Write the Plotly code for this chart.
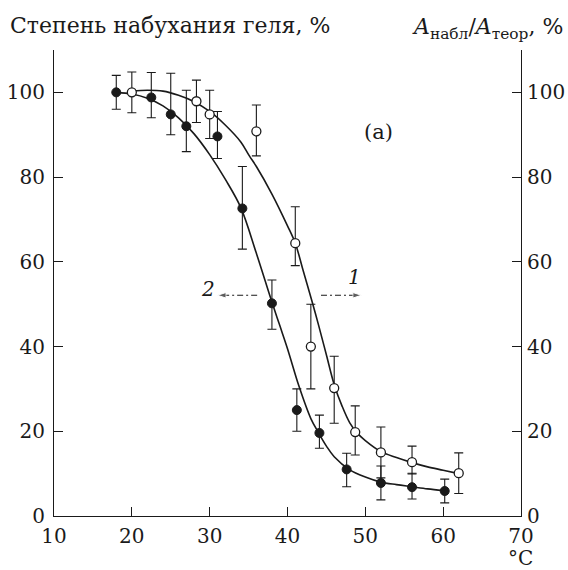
import plotly.graph_objects as go

# ---- data ----
# curve 1 (open circles, right axis quantity)
t1 = [20, 28.3, 30, 36, 41, 43, 46, 48.7, 52, 56, 62]
v1 = [100, 97.9, 94.8, 90.8, 64.4, 40, 30.2, 19.8, 15, 12.7, 10.1]
e1_plus = [4.8, 5, 5.7, 6.2, 8.6, 10, 7.5, 6.2, 6, 3.8, 4.8]
e1_minus = [4.8, 5, 5.7, 5.8, 5.3, 10, 8.3, 5.4, 6, 2.8, 4.8]

# curve 2 (filled circles, left axis quantity)
t2 = [18, 22.5, 25, 27, 31, 34.2, 38, 41.2, 44.1, 47.6, 52, 56, 60.2]
v2 = [100, 98.8, 94.8, 92, 89.6, 72.6, 50.2, 25, 19.6, 11, 7.8, 6.8, 5.9]
e2_plus = [4, 5.9, 9.7, 8.5, 5.9, 9.9, 5.5, 5, 4.2, 3.8, 4, 3.3, 2.8]
e2_minus = [4, 4.8, 4.8, 6, 5.2, 9.6, 6.1, 5, 3.6, 4.1, 4, 2.8, 2.8]

# fitted smooth curves
c1_t = [20, 22, 24, 26, 28, 30, 32, 34, 35.1, 36, 38, 40, 41, 42, 43.1, 44, 45, 46,
        47, 48, 49, 50, 52, 54, 56, 58, 60, 62]
c1_v = [100.3, 100.5, 100.3, 99.3, 97.8, 95.5, 92.3, 88.3, 85, 82.5, 76, 68.5, 64.4,
        58, 51, 45, 38, 31, 26, 22, 19.5, 17.8, 15.2, 13.8, 12.6, 11.6, 10.8, 10]
c2_t = [18, 20, 22, 24, 26, 28, 30, 32, 34, 36, 38, 39, 40, 41.5, 43, 44, 45, 46,
        48, 50, 52, 54, 56, 58, 60]
c2_v = [100, 99.6, 98.6, 96.8, 94, 90.2, 85.3, 79.5, 72.8, 62, 50.5, 45, 39.5, 30.5,
        23, 19.6, 16.5, 14, 10.9, 9.2, 8, 7.4, 6.9, 6.4, 6]

x_ticks = [10, 20, 30, 40, 50, 60, 70]
y_ticks = [0, 20, 40, 60, 80, 100]

left_title = "Степень набухания геля, %"
right_title = "<i>A</i><sub>набл</sub>/<i>A</i><sub>теор</sub>, %"
x_unit = "°C"
panel_label = "(a)"

# curve labels with direction arrows: (label, label_x, label_y, arrow_from_x, arrow_to_x, arrow_y)
arrow2 = ("<i>2</i>", 29.8, 53.5, 36.1, 31.0, 52.1)
arrow1 = ("<i>1</i>", 48.6, 56.5, 44.3, 49.5, 52.1)

FONT = "DejaVu Serif"
FS_TICK = 20
FS_TITLE = 22
INK = "#1a1a1a"

fig = go.Figure()

fig.add_trace(go.Scatter(x=c1_t, y=c1_v, mode="lines", line=dict(color=INK, width=1.6, shape="spline"),
                         hoverinfo="skip"))
fig.add_trace(go.Scatter(x=c2_t, y=c2_v, mode="lines", line=dict(color=INK, width=1.6, shape="spline"),
                         hoverinfo="skip"))

fig.add_trace(go.Scatter(
    x=t1, y=v1, mode="markers",
    marker=dict(symbol="circle", size=9, color="white", line=dict(color=INK, width=1.3)),
    error_y=dict(type="data", symmetric=False, array=e1_plus, arrayminus=e1_minus,
                 color=INK, thickness=1.1, width=4.5)))
fig.add_trace(go.Scatter(
    x=t2, y=v2, mode="markers",
    marker=dict(symbol="circle", size=9, color=INK, line=dict(color=INK, width=1)),
    error_y=dict(type="data", symmetric=False, array=e2_plus, arrayminus=e2_minus,
                 color=INK, thickness=1.1, width=4.5)))

# arrows (dashed with arrowhead)
for lab, lx, ly, ax0, ax1, ay in (arrow2, arrow1):
    fig.add_trace(go.Scatter(
        x=[ax0, ax1], y=[ay, ay], mode="lines+markers",
        line=dict(color=INK, width=1.1, dash="6px,3px,2px,3px"),
        marker=dict(symbol=["circle", "arrow"], size=[0, 9], angleref="previous", color=INK),
        hoverinfo="skip"))
    fig.add_annotation(x=lx, y=ly, text=lab, showarrow=False, xanchor="center", yanchor="middle",
                       font=dict(family=FONT, size=20, color=INK))

# invisible trace to anchor the right axis
fig.add_trace(go.Scatter(x=[10], y=[0], yaxis="y2", mode="markers", marker=dict(opacity=0),
                         hoverinfo="skip"))

fig.add_annotation(x=51.7, y=90.6, text=panel_label, showarrow=False,
                   font=dict(family=FONT, size=21, color=INK))

fig.add_annotation(xref="paper", yref="paper", x=-0.098, y=1.053, text=left_title, showarrow=False,
                   xanchor="left", yanchor="middle", font=dict(family=FONT, size=FS_TITLE, color=INK))
fig.add_annotation(xref="paper", yref="paper", x=1.095, y=1.046, text=right_title, showarrow=False,
                   xanchor="right", yanchor="middle", font=dict(family=FONT, size=FS_TITLE, color=INK))
fig.add_annotation(xref="paper", yref="paper", x=0.998, y=-0.09, text=x_unit, showarrow=False,
                   xanchor="center", yanchor="middle", font=dict(family=FONT, size=20, color=INK))

axis_common = dict(showgrid=False, zeroline=False, showline=True, linecolor=INK, linewidth=1.2,
                   ticks="inside", ticklen=9, tickcolor=INK, tickwidth=1.2, automargin=False,
                   tickfont=dict(family=FONT, size=FS_TICK, color=INK))

fig.update_layout(
    width=568, height=570,
    margin=dict(l=54, r=47, t=50, b=54),
    paper_bgcolor="white", plot_bgcolor="white",
    showlegend=False,
    font=dict(family=FONT, size=FS_TICK, color=INK),
    xaxis=dict(range=[10, 70], tickvals=x_ticks, ticklabelstandoff=2, **axis_common),
    yaxis=dict(range=[0, 110], tickvals=y_ticks, ticklabelstandoff=4, **axis_common),
    yaxis2=dict(range=[0, 110], tickvals=y_ticks, overlaying="y", side="right",
                ticklabelstandoff=1, **axis_common),
)

fig.write_html("out.html")
